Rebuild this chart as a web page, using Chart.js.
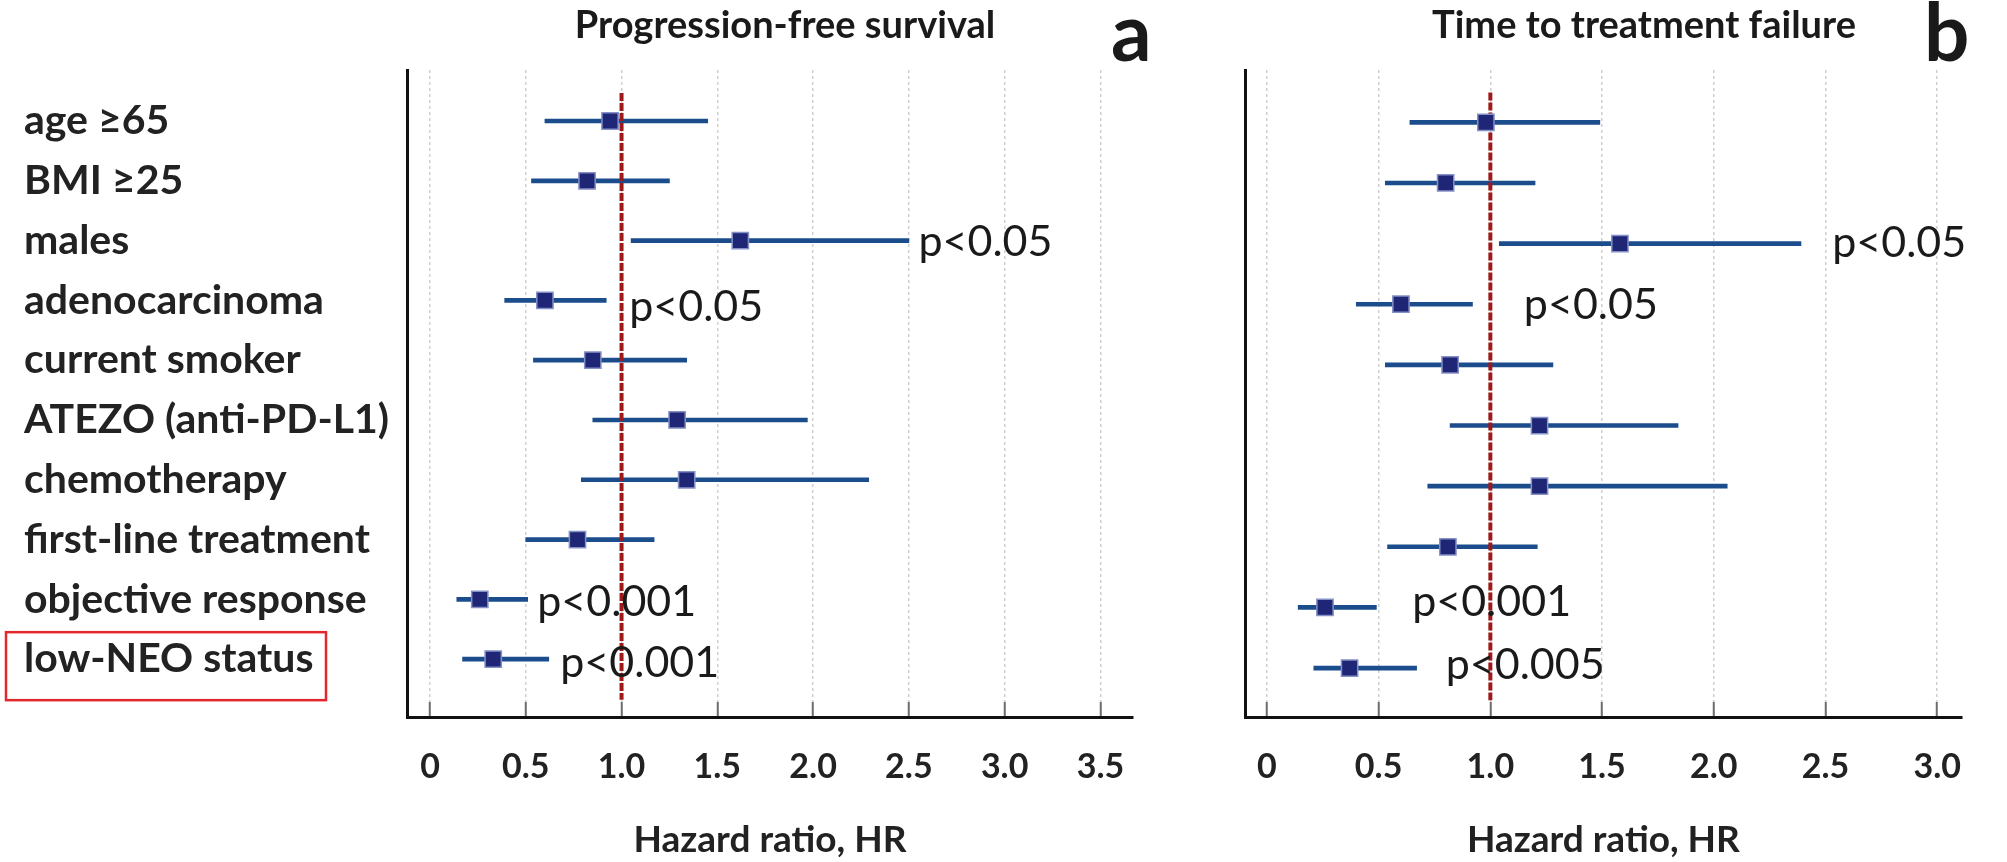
<!DOCTYPE html>
<html>
<head>
<meta charset="utf-8">
<script src="https://cdn.jsdelivr.net/npm/chart.js@4.4.1/dist/chart.umd.min.js"></script>
<style>
  html, body { margin: 0; padding: 0; background: #fff; }
  #wrap { position: relative; width: 2007px; height: 862px; }
  #pfs { position: absolute; left: 0; top: 0; }
  #ttf { position: absolute; left: 1180px; top: 0; }
</style>
</head>
<body>
<div id="wrap">
  <canvas id="pfs" width="1180" height="862"></canvas>
  <canvas id="ttf" width="827" height="862"></canvas>
</div>
<script>
const categories = ["age \u226565", "BMI \u226525", "males", "adenocarcinoma", "current smoker",
  "ATEZO (anti-PD-L1)", "chemotherapy", "first-line treatment", "objective response", "low-NEO status"];

// progression-free survival (a)
const pfsHR   = [0.94, 0.82, 1.62, 0.60, 0.85, 1.29, 1.34, 0.77, 0.26, 0.33];
const pfsLow  = [0.60, 0.53, 1.05, 0.39, 0.54, 0.85, 0.79, 0.50, 0.14, 0.17];
const pfsHigh = [1.45, 1.25, 2.50, 0.92, 1.34, 1.97, 2.29, 1.17, 0.51, 0.62];
const pfsP    = ["", "", "p<0.05", "p<0.05", "", "", "", "", "p<0.001", "p<0.001"];
const pfsTicks = [0, 0.5, 1.0, 1.5, 2.0, 2.5, 3.0, 3.5];
const pfsTickLabels = ["0", "0.5", "1.0", "1.5", "2.0", "2.5", "3.0", "3.5"];

// time to treatment failure (b)
const ttfHR   = [0.98, 0.80, 1.58, 0.60, 0.82, 1.22, 1.22, 0.81, 0.26, 0.37];
const ttfLow  = [0.64, 0.53, 1.04, 0.40, 0.53, 0.82, 0.72, 0.54, 0.14, 0.21];
const ttfHigh = [1.49, 1.20, 2.39, 0.92, 1.28, 1.84, 2.06, 1.21, 0.49, 0.67];
const ttfP    = ["", "", "p<0.05", "p<0.05", "", "", "", "", "p<0.001", "p<0.005"];
const ttfTicks = [0, 0.5, 1.0, 1.5, 2.0, 2.5, 3.0];
const ttfTickLabels = ["0", "0.5", "1.0", "1.5", "2.0", "2.5", "3.0"];

const refHR = 1.0;

// titles, panel letters, p-values and the red box
const panelText = {
  id: "panelText",
  afterDraw(chart, args, o) {
    const { ctx } = chart;
    const x = chart.scales.x, y = chart.scales.y;
    ctx.save();
    ctx.fillStyle = "#1a1a1a";
    ctx.textBaseline = "alphabetic";
    ctx.font = "bold 38px Lato";
    ctx.textAlign = "center";
    ctx.fillText(o.title, o.titleX, 38);
    ctx.font = "bold 80px Lato";
    ctx.textAlign = "left";
    ctx.fillText(o.letter, o.letterX, 61);
    ctx.font = "43px Lato";
    o.pText.forEach((t, i) => {
      if (!t) return;
      const pos = o.pPos[i];
      ctx.fillText(t, x.getPixelForValue(pos.at), y.getPixelForValue(i) + 15 + pos.dy);
    });
    if (o.box) {
      const yb = y.getPixelForValue(o.box.row);
      ctx.strokeStyle = "#e3282c";
      ctx.lineWidth = 2.5;
      ctx.strokeRect(6, yb - 27, 320, 68);
    }
    ctx.restore();
  }
};

function makePanel(id, c) {
  return new Chart(document.getElementById(id), {
    type: "bar",
    data: {
      datasets: [
        {
          type: "line",
          label: "HR",
          data: c.hr.map((v, i) => ({ x: v, y: i })),
          showLine: false,
          pointStyle: "rect",
          pointRadius: 11.5,
          pointHoverRadius: 11.5,
          backgroundColor: "#1f2676",
          borderColor: "#8590c6",
          borderWidth: 1.5,
          order: 0
        },
        {
          type: "line",
          label: "HR = 1",
          data: [{ x: refHR, y: c.refFrom }, { x: refHR, y: c.refTo }],
          borderColor: "#9e1a1a",
          borderWidth: 4,
          borderDash: [8, 2],
          pointRadius: 0,
          order: 1
        },
        {
          type: "bar",
          label: "95% CI",
          data: c.low.map((v, i) => ({ x: [v, c.high[i]], y: i })),
          barThickness: 4,
          backgroundColor: "#1b4c8c",
          order: 2
        }
      ]
    },
    options: {
      indexAxis: "y",
      responsive: false,
      animation: false,
      layout: { padding: { left: c.padLeft, right: c.padRight, top: 70, bottom: 0 } },
      plugins: {
        legend: { display: false },
        tooltip: { enabled: false },
        panelText: {
          title: c.title, titleX: c.titleX, letter: c.letter, letterX: c.letterX,
          pText: c.pText, pPos: c.pPos, box: c.box
        }
      },
      scales: {
        x: {
          type: "linear",
          min: c.xMin,
          max: c.xMax,
          offset: false,
          afterBuildTicks: s => { s.ticks = c.ticks.map(v => ({ value: v })); },
          afterFit: s => { s.height = 145; },
          ticks: {
            callback: (v, i) => c.tickLabels[i],
            font: { family: "Lato", weight: "bold", size: 34 },
            color: "#222",
            padding: 45,
            autoSkip: false,
            maxRotation: 0
          },
          grid: { color: "#cfcfcf", lineWidth: 1.5, tickLength: -15, tickColor: "#6d6d6d", tickWidth: 2, offset: false },
          border: { color: "#111", width: 3, dash: [3, 3] },
          title: {
            display: true,
            text: "Hazard ratio, HR",
            font: { family: "Lato", weight: "bold", size: 37 },
            color: "#222",
            padding: { top: 0, bottom: 0 }
          }
        },
        y: {
          type: "linear",
          reverse: true,
          min: c.yMin,
          max: c.yMax,
          offset: false,
          afterBuildTicks: s => { s.ticks = categories.map((t, i) => ({ value: i })); },
          afterFit: s => { s.width = c.yWidth; },
          ticks: {
            display: c.showLabels,
            callback: (v, i) => categories[i],
            crossAlign: "far",
            autoSkip: false,
            font: { family: "Lato", weight: "bold", size: 41 },
            color: "#222"
          },
          grid: { display: false, offset: false },
          border: { color: "#111", width: 3 }
        }
      }
    },
    plugins: [panelText]
  });
}

makePanel("pfs", {
  hr: pfsHR, low: pfsLow, high: pfsHigh, ticks: pfsTicks, tickLabels: pfsTickLabels,
  pText: pfsP,
  pPos: [null, null, { at: 2.55, dy: 0 }, { at: 1.04, dy: 6 }, null, null, null, null,
         { at: 0.56, dy: 2 }, { at: 0.68, dy: 3 }],
  title: "Progression-free survival", titleX: 785, letter: "a", letterX: 1111,
  padLeft: 24, padRight: 47, yWidth: 383, showLabels: true,
  xMin: -0.12, xMax: 3.67, yMin: -0.853, yMax: 9.967,
  refFrom: -0.47, refTo: 9.68,
  box: { row: 9 }
});

makePanel("ttf", {
  hr: ttfHR, low: ttfLow, high: ttfHigh, ticks: ttfTicks, tickLabels: ttfTickLabels,
  pText: ttfP,
  pPos: [null, null, { at: 2.53, dy: -2 }, { at: 1.15, dy: 0 }, null, null, null, null,
         { at: 0.65, dy: -6 }, { at: 0.80, dy: -4 }],
  title: "Time to treatment failure", titleX: 464, letter: "b", letterX: 744,
  padLeft: 0, padRight: 29, yWidth: 65, showLabels: false,
  xMin: -0.098, xMax: 3.11, yMin: -0.863, yMax: 9.807,
  refFrom: -0.49, refTo: 9.53,
  box: null
});
</script>
</body>
</html>
